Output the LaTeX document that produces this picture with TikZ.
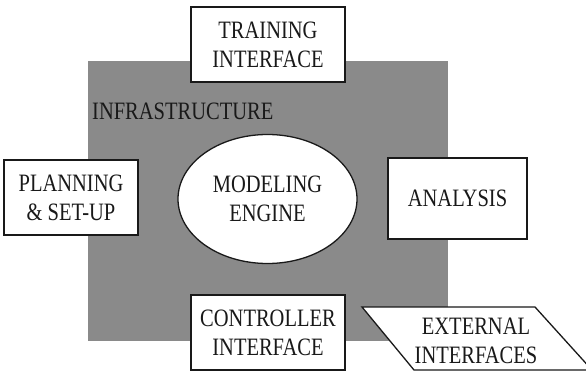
\documentclass[tikz,border=0pt]{standalone}
\usepackage{fontspec}
\setmainfont{Liberation Serif}[FakeStretch=0.82]
\usetikzlibrary{shapes.geometric}

\definecolor{infragray}{RGB}{138,138,138}
\definecolor{ink}{RGB}{25,25,25}

\tikzset{
  lbl/.style={font=\fontsize{25}{29}\selectfont, align=center, text=ink},
  box/.style={rectangle, draw=ink, line width=1.6pt, fill=white, lbl, inner sep=0pt},
  engine/.style={ellipse, draw=ink, line width=1.3pt, fill=white, lbl, inner sep=0pt},
}

\begin{document}
\begin{tikzpicture}[x=1pt,y=-1pt]
\useasboundingbox (0,0) rectangle (586,372);

% infrastructure backdrop
\node[fill=infragray, minimum width=360pt, minimum height=280pt, inner sep=0pt] (infra) at (268,201) {};
\node[lbl, anchor=base west, inner sep=0pt] (infralabel) at (92,119) {INFRASTRUCTURE};

% surrounding components
\node[box, minimum width=154pt, minimum height=75pt] (train) at (268,44.5) {TRAINING\\INTERFACE};
\node[box, minimum width=134pt, minimum height=75pt] (plan) at (71,197.5) {PLANNING\\\& SET-UP};
\node[box, minimum width=139pt, minimum height=81pt] (analysis) at (457.5,198.5) {ANALYSIS};
\node[box, minimum width=154pt, minimum height=75pt] (ctrl) at (268,332.5) {CONTROLLER\\INTERFACE};

% central engine
\node[engine, minimum width=179pt, minimum height=129pt] (model) at (267.5,199) {MODELING\\ENGINE};

% external interfaces (parallelogram)
\coordinate (ext1) at (362,307);
\coordinate (ext2) at (535,307);
\coordinate (ext3) at (592,370);
\coordinate (ext4) at (414,370);
\draw[draw=ink, line width=1.3pt, fill=white] (ext1) -- (ext2) -- (ext3) -- (ext4) -- cycle;
\node[lbl, inner sep=0pt] (ext) at (476,341) {EXTERNAL\\INTERFACES};
\end{tikzpicture}
\end{document}
